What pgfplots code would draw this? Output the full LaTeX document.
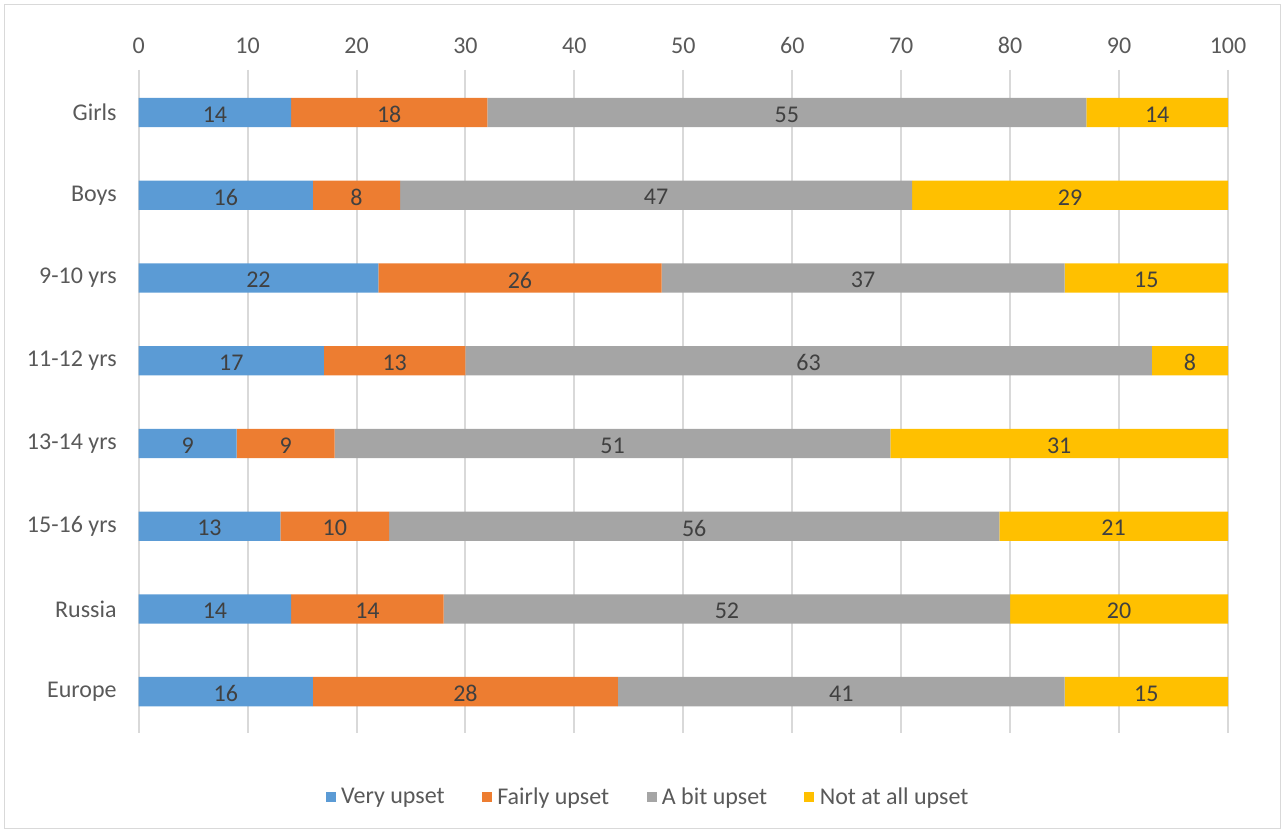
\documentclass[border=0pt]{standalone}
\usepackage{pgfplots}
\pgfplotsset{compat=1.18}
\usepackage{fontspec}
\setmainfont{Carlito}
\definecolor{cA}{HTML}{5B9BD5}
\definecolor{cB}{HTML}{ED7D31}
\definecolor{cC}{HTML}{A5A5A5}
\definecolor{cD}{HTML}{FFC000}
\definecolor{cgrid}{HTML}{D9D9D9}
\definecolor{ctick}{HTML}{595959}
\definecolor{clab}{HTML}{404040}
\newcommand{\cfont}{\fontsize{18}{21}\selectfont}
\begin{document}
\begin{tikzpicture}
\begin{axis}[name=ax, at={(0,0)}, anchor=south west,
  scale only axis, width=817pt, height=497.25pt,
  xbar stacked, bar width=22pt,
  xmin=0, xmax=100, ymin=-0.514, ymax=7.5, y dir=reverse,
  axis line style={draw=none},
  /pgf/number format/assume math mode=true,
  xtick={0,10,...,100}, xticklabel pos=upper,
  ytick={0,...,7},
  yticklabels={Girls,Boys,9-10 yrs,11-12 yrs,13-14 yrs,15-16 yrs,Russia,Europe},
  tick style={draw=none},
  tick label style={font=\cfont, text=ctick},
  yticklabel style={xshift=-13pt},
  xticklabel style={yshift=8.5pt},
  xmajorgrids, ymajorgrids=false,
  grid style={draw=cgrid, line width=1.5pt},
  legend columns=4,
  legend style={draw=none, at={(0.468,0)}, anchor=center, yshift=-48pt,
    font=\cfont, text=ctick,
    /tikz/every even column/.append style={column sep=26pt},
    /tikz/every odd column/.append style={column sep=2pt}},
  legend image code/.code={\fill[#1] (0pt,-3.75pt) rectangle (7.5pt,3.75pt);},
]
\addplot[fill=cA, draw=none] coordinates {(14,0) (16,1) (22,2) (17,3) (9,4) (13,5) (14,6) (16,7)};
\addlegendentry{Very upset}
\addplot[fill=cB, draw=none] coordinates {(18,0) (8,1) (26,2) (13,3) (9,4) (10,5) (14,6) (28,7)};
\addlegendentry{Fairly upset}
\addplot[fill=cC, draw=none] coordinates {(55,0) (47,1) (37,2) (63,3) (51,4) (56,5) (52,6) (41,7)};
\addlegendentry{A bit upset}
\addplot[fill=cD, draw=none] coordinates {(14,0) (29,1) (15,2) (8,3) (31,4) (21,5) (20,6) (15,7)};
\addlegendentry{Not at all upset}
\end{axis}
\begin{axis}[at={(ax.south west)}, anchor=south west,
  scale only axis, width=817pt, height=497.25pt,
  xmin=0, xmax=100, ymin=-0.514, ymax=7.5, y dir=reverse, hide axis]
\addplot[only marks, mark=none, nodes near coords, point meta=explicit symbolic,
  nodes near coords align=center,
  every node near coord/.append style={font=\cfont, text=clab, yshift=-1.5pt}]
  coordinates {
  (7,0)[14] (23,0)[18] (59.5,0)[55] (93.5,0)[14]
  (8,1)[16] (20,1)[8] (47.5,1)[47] (85.5,1)[29]
  (11,2)[22] (35,2)[26] (66.5,2)[37] (92.5,2)[15]
  (8.5,3)[17] (23.5,3)[13] (61.5,3)[63] (96.5,3)[8]
  (4.5,4)[9] (13.5,4)[9] (43.5,4)[51] (84.5,4)[31]
  (6.5,5)[13] (18,5)[10] (51,5)[56] (89.5,5)[21]
  (7,6)[14] (21,6)[14] (54,6)[52] (90,6)[20]
  (8,7)[16] (30,7)[28] (64.5,7)[41] (92.5,7)[15]
  };
\end{axis}
\draw[cgrid, line width=0.75pt] ([shift={(-100.3pt,-71.25pt)}]ax.south west) rectangle ([shift={(856pt,546pt)}]ax.south west);
\pgfresetboundingbox
\path[use as bounding box] ([shift={(-104pt,-75pt)}]ax.south west) rectangle ([shift={(859pt,549.75pt)}]ax.south west);
\end{tikzpicture}
\end{document}
